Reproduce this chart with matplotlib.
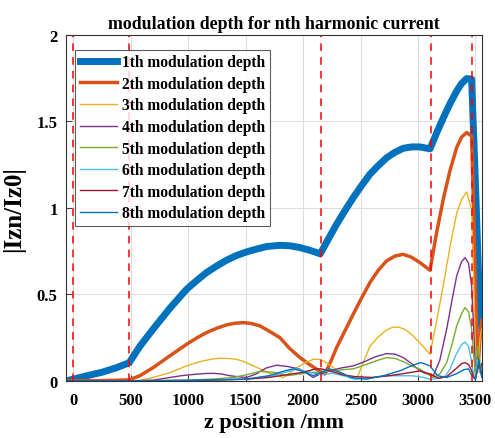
"""
Modulation depth of the nth harmonic current along z.
Values read off the reference figure.
"""

import numpy as np
import matplotlib.pyplot as plt

plt.rcParams["font.family"] = ["Liberation Serif", "DejaVu Serif"]
plt.rcParams["font.weight"] = "bold"

# ---- data (z in mm, depth |Izn/Iz0|) ----
z1 = [-60, 0, 120, 250, 370, 487, 580, 696, 841, 987, 1074, 1161, 1250, 1335,
      1420, 1509, 1600, 1683, 1799, 1890, 1973, 2060, 2150, 2220, 2292, 2365,
      2437, 2510, 2582, 2655, 2727, 2800, 2872, 2945, 3017, 3105, 3160, 3220,
      3280, 3337, 3380, 3424, 3467, 3480, 3496, 3510, 3525, 3540, 3555]
d1 = [0.0, 0.01, 0.03, 0.05, 0.075, 0.105, 0.2, 0.30, 0.42, 0.53, 0.58, 0.627,
      0.665, 0.698, 0.725, 0.746, 0.763, 0.777, 0.784, 0.781, 0.771, 0.755,
      0.735, 0.82, 0.906, 0.985, 1.06, 1.13, 1.195, 1.245, 1.29, 1.322, 1.345,
      1.353, 1.353, 1.342, 1.43, 1.52, 1.605, 1.676, 1.72, 1.748, 1.745, 1.5,
      1.22, 0.95, 0.65, 0.45, 0.3]

z2 = [-60, 0, 250, 487, 580, 696, 841, 987, 1074, 1161, 1250, 1335, 1400, 1480,
      1550, 1625, 1700, 1799, 1880, 1973, 2050, 2118, 2190, 2240, 2292, 2365,
      2437, 2510, 2582, 2655, 2727, 2800, 2872, 2945, 3017, 3105, 3160, 3220,
      3280, 3337, 3380, 3424, 3467, 3480, 3496, 3510, 3525, 3540, 3555]
d2 = [0.0, 0.0, 0.002, 0.006, 0.03, 0.077, 0.145, 0.212, 0.248, 0.28, 0.305,
      0.324, 0.333, 0.337, 0.332, 0.318, 0.29, 0.25, 0.19, 0.135, 0.098, 0.068,
      0.04, 0.11, 0.193, 0.29, 0.386, 0.48, 0.569, 0.64, 0.694, 0.722, 0.732,
      0.715, 0.684, 0.64, 0.85, 1.05, 1.22, 1.35, 1.41, 1.436, 1.416, 1.1, 0.65,
      0.3, 0.1, 0.25, 0.35]

z3 = [-60, 487, 580, 696, 841, 987, 1060, 1132, 1205, 1277, 1350, 1422, 1495,
      1567, 1640, 1712, 1770, 1828, 1886, 1944, 2017, 2089, 2147, 2205, 2263,
      2320, 2379, 2430, 2466, 2520, 2582, 2655, 2727, 2780, 2829, 2895, 2959,
      3030, 3105, 3160, 3220, 3280, 3337, 3380, 3424, 3467, 3485, 3500, 3520,
      3540, 3555]
d3 = [0.0, 0.0, 0.003, 0.02, 0.048, 0.087, 0.103, 0.116, 0.126, 0.131, 0.13,
      0.125, 0.11, 0.087, 0.065, 0.043, 0.03, 0.02, 0.045, 0.077, 0.105, 0.125,
      0.125, 0.105, 0.077, 0.052, 0.03, 0.015, 0.01, 0.1, 0.2, 0.255, 0.295,
      0.31, 0.312, 0.295, 0.26, 0.21, 0.154, 0.34, 0.55, 0.78, 0.97, 1.05,
      1.092, 0.99, 0.6, 0.2, 0.05, 0.25, 0.3]

z4 = [-60, 487, 700, 841, 960, 1074, 1150, 1219, 1290, 1364, 1440, 1509, 1590,
      1680, 1770, 1870, 1973, 2030, 2089, 2147, 2240, 2340, 2437, 2530, 2630,
      2727, 2800, 2872, 2945, 3017, 3080, 3133, 3190, 3250, 3300, 3337, 3380,
      3410, 3440, 3467, 3485, 3500, 3520, 3540, 3555]
d4 = [0.0, 0.0, 0.005, 0.02, 0.032, 0.039, 0.043, 0.044, 0.04, 0.03, 0.024,
      0.02, 0.04, 0.075, 0.091, 0.083, 0.068, 0.045, 0.02, 0.04, 0.06, 0.076,
      0.087, 0.11, 0.14, 0.158, 0.155, 0.135, 0.1, 0.058, 0.04, 0.03, 0.12,
      0.3, 0.48, 0.607, 0.69, 0.713, 0.68, 0.55, 0.3, 0.05, 0.15, 0.05, 0.1]

z5 = [-60, 487, 1000, 1200, 1393, 1500, 1625, 1740, 1857, 1973, 2060, 2150,
      2263, 2350, 2437, 2530, 2630, 2727, 2800, 2880, 2950, 3017, 3070, 3133,
      3190, 3250, 3300, 3337, 3380, 3410, 3440, 3467, 3485, 3500, 3520, 3540,
      3555]
d5 = [0.0, 0.0, 0.005, 0.01, 0.02, 0.035, 0.055, 0.05, 0.03, 0.04, 0.05, 0.05,
      0.06, 0.065, 0.07, 0.09, 0.115, 0.135, 0.13, 0.11, 0.085, 0.068, 0.045,
      0.02, 0.04, 0.106, 0.22, 0.318, 0.39, 0.424, 0.4, 0.3, 0.15, 0.02, 0.2,
      0.1, 0.05]

z6 = [-60, 487, 1000, 1500, 1700, 1850, 1944, 2050, 2156, 2250, 2350, 2450,
      2550, 2650, 2750, 2850, 2950, 3050, 3105, 3180, 3240, 3279, 3330, 3380,
      3410, 3440, 3467, 3485, 3500, 3520, 3540, 3555]
d6 = [0.0, 0.0, 0.003, 0.01, 0.025, 0.05, 0.07, 0.05, 0.035, 0.045, 0.03, 0.01,
      0.015, 0.025, 0.03, 0.03, 0.03, 0.02, 0.01, 0.015, 0.03, 0.068, 0.15,
      0.21, 0.225, 0.2, 0.11, 0.03, 0.01, 0.12, 0.05, 0.03]

z7 = [-60, 487, 1000, 1500, 1700, 1850, 2000, 2100, 2156, 2250, 2350, 2450,
      2600, 2750, 2900, 3017, 3105, 3180, 3250, 3330, 3380, 3410, 3440, 3467,
      3485, 3500, 3530, 3555]
d7 = [0.0, 0.0, 0.002, 0.01, 0.02, 0.035, 0.05, 0.068, 0.07, 0.055, 0.035,
      0.025, 0.02, 0.03, 0.045, 0.058, 0.04, 0.015, 0.025, 0.07, 0.1, 0.106,
      0.095, 0.06, 0.02, 0.01, 0.1, 0.04]

z8 = [-60, 487, 1000, 1500, 1700, 1850, 1915, 2000, 2089, 2160, 2230, 2320,
      2420, 2550, 2700, 2850, 2950, 3025, 3105, 3170, 3250, 3330, 3400, 3440,
      3470, 3500, 3530, 3555]
d8 = [0.0, 0.0, 0.003, 0.01, 0.03, 0.06, 0.07, 0.055, 0.03, 0.05, 0.07, 0.05,
      0.02, 0.01, 0.03, 0.06, 0.09, 0.106, 0.087, 0.03, 0.02, 0.04, 0.065,
      0.07, 0.03, 0.01, 0.12, 0.02]

boundaries = [0, 487, 2156, 3110, 3472]

series = [(z1, d1), (z2, d2), (z3, d3), (z4, d4),
          (z5, d5), (z6, d6), (z7, d7), (z8, d8)]
colors = ["#0072BD", "#D95319", "#EDB120", "#7E2F8E",
          "#77AC30", "#4DBEEE", "#A2142F", "#0072BD"]
widths = [5, 2.5, 1, 1, 1, 1, 1, 1]


def main():
    fig = plt.figure(figsize=(4.95, 4.39), dpi=100)
    ax = fig.add_axes([0.133, 0.13, 0.84, 0.788])

    for n, ((z, d), c, lw) in enumerate(zip(series, colors, widths), start=1):
        ax.plot(z, d, color=c, lw=lw, label=f"{n}th modulation depth")

    for zb in boundaries:
        ax.axvline(zb, color="red", lw=1.1, ls=(0, (5, 4)))

    ax.set_xlim(-64, 3554)
    ax.set_ylim(0, 2)
    ax.set_xticks(np.arange(0, 3501, 500))
    ax.set_yticks([0, 0.5, 1, 1.5, 2])
    ax.set_yticklabels(["0", "0.5", "1", "1.5", "2"])
    ax.tick_params(direction="in", labelsize=12, length=4, color="#444444")
    ax.tick_params(axis="x", pad=8)
    ax.tick_params(axis="y", pad=6)
    ax.grid(color="#dddddd", lw=0.8)
    for s in ax.spines.values():
        s.set_color("#333333")
        s.set_linewidth(0.8)

    ax.set_title("modulation depth for nth harmonic current",
                 fontsize=12.8, fontweight="bold", pad=5)
    ax.set_xlabel("z position /mm", fontsize=16, fontweight="bold", labelpad=3)
    ax.set_ylabel("|Izn/Iz0|", fontsize=18, fontweight="bold", labelpad=8)

    leg = ax.legend(loc="upper left", bbox_to_anchor=(0.0, 0.985),
                    fontsize=11.2, frameon=True, fancybox=False,
                    edgecolor="#333333", handlelength=2.4, handletextpad=0.3,
                    labelspacing=0.36, borderpad=0.3, borderaxespad=0.6)
    leg.get_frame().set_linewidth(0.8)

    fig.savefig("out.png", dpi=100)


if __name__ == "__main__":
    main()
